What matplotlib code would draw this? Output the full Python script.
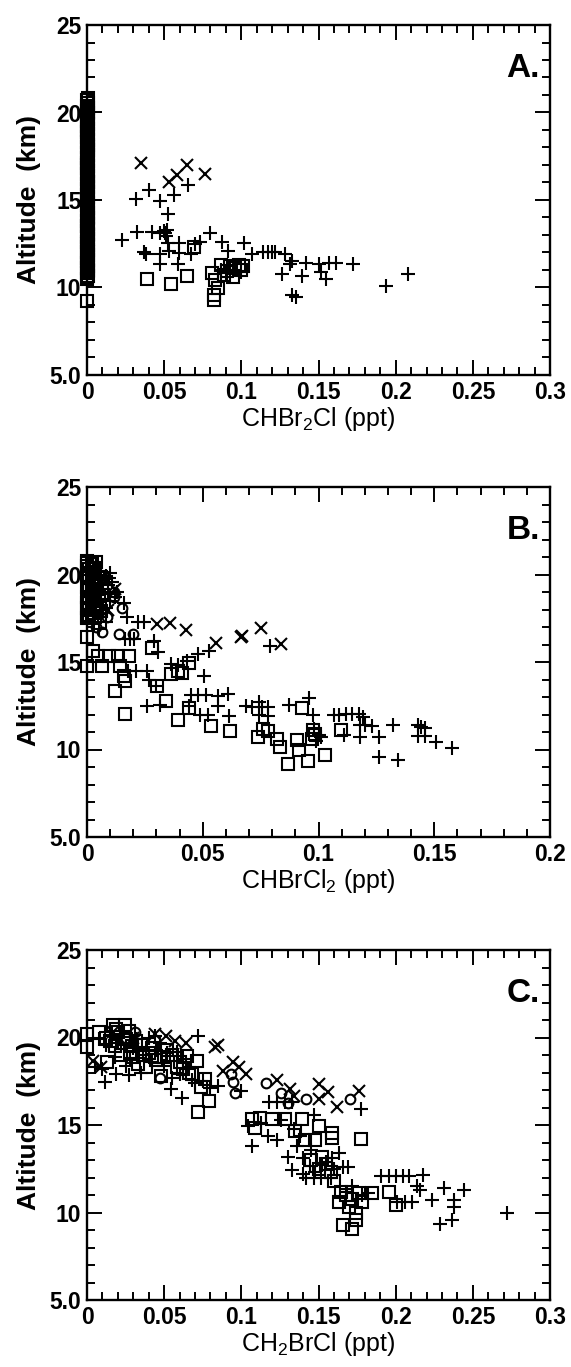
import matplotlib
matplotlib.use("Agg")
import matplotlib.pyplot as plt
from matplotlib.ticker import MultipleLocator, FixedLocator

plt.rcParams['font.family'] = ['Liberation Sans', 'DejaVu Sans']

# ---------------- Panel A : CHBr2Cl ----------------
A_sq_x = [0.0, 0.0, 0.0005, 0.0, 0.0005, 0.0, 0.0005, 0.0, 0.0005, 0.0, 0.0005, 0.0, 0.0005,
          0.0, 0.0005, 0.0, 0.0005, 0.0, 0.0005, 0.0, 0.0005, 0.0, 0.0005, 0.0, 0.0005, 0.0,
          0.0005, 0.0, 0.0005, 0.0, 0.0005, 0.0, 0.0005, 0.0, 0.0005, 0.0, 0.0005, 0.0, 0.0005,
          0.0, 0.0005, 0.0, 0.0005, 0.0, 0.0005, 0.0, 0.0005, 0.0, 0.0005, 0.0, 0.0005, 0.0,
          0.0005, 0.0, 0.0005, 0.0, 0.0005, 0.0, 0.0005, 0.0, 0.0005, 0.0, 0.0005, 0.0, 0.0005,
          0.0, 0.0005, 0.0, 0.0005, 0.0, 0.0005, 0.0, 0.0005, 0.0, 0.0005, 0.0, 0.0005, 0.0,
          0.0005, 0.0, 0.0005, 0.0, 0.0005, 0.0, 0.0005,
          0.0387, 0.0545, 0.0647, 0.0692, 0.0813, 0.083, 0.0849, 0.0825, 0.0825,
          0.0866, 0.0925, 0.096, 0.1008, 0.089, 0.0949, 0.0996, 0.0985, 0.0905]
A_sq_y = [9.2, 10.5, 10.65, 10.8, 10.95, 11.1, 11.25, 11.4, 11.55, 11.7, 11.85, 12.0, 12.15,
          12.3, 12.45, 12.6, 12.75, 12.9, 13.05, 13.2, 13.35, 13.5, 13.65, 13.8, 13.95, 14.1,
          14.25, 14.4, 14.55, 14.7, 14.85, 15.0, 15.15, 15.3, 15.45, 15.6, 15.75, 15.9, 16.05,
          16.2, 16.35, 16.5, 16.65, 16.8, 16.95, 17.1, 17.25, 17.4, 17.55, 17.7, 17.85, 18.0,
          18.15, 18.3, 18.45, 18.6, 18.75, 18.9, 19.05, 19.2, 19.35, 19.5, 19.65, 19.8, 19.95,
          20.1, 20.25, 20.4, 20.55, 20.7, 20.85, 10.6, 11.0, 11.5, 12.0, 12.5, 13.0, 13.5,
          14.0, 15.0, 16.0, 17.0, 18.0, 19.0, 20.0,
          10.48, 10.19, 10.67, 12.33, 10.82, 10.44, 9.96, 9.57, 9.28,
          11.27, 11.2, 11.1, 11.2, 10.7, 10.6, 11.0, 11.3, 10.95]
A_plus_x = [0.0652, 0.0403, 0.0562, 0.032, 0.0474, 0.0522, 0.0225, 0.0327, 0.0422, 0.0474,
            0.0498, 0.051, 0.0522, 0.0593, 0.0368, 0.038, 0.0474, 0.0534, 0.0593, 0.0474,
            0.0588, 0.0676, 0.070, 0.0735, 0.0794, 0.0877, 0.0913, 0.1015, 0.1067, 0.1138,
            0.1174, 0.1198, 0.1221, 0.128, 0.1316, 0.142, 0.1506, 0.1565, 0.1613, 0.1726,
            0.1262, 0.1394, 0.1518, 0.1548, 0.1328, 0.1352, 0.194, 0.208, 0.087, 0.090,
            0.096, 0.1, 0.0925, 0.133, 0.0505, 0.052]
A_plus_y = [15.88, 15.55, 15.3, 15.03, 14.97, 14.2, 12.7, 13.18, 13.18, 13.14,
            13.24, 12.95, 12.56, 12.56, 12.0, 11.94, 11.94, 12.08, 11.98, 11.36,
            11.36, 11.94, 12.46, 12.6, 13.14, 12.6, 12.08, 12.56, 11.94, 12.0,
            12.0, 12.0, 12.0, 11.94, 11.36, 11.4, 11.36, 11.4, 11.4, 11.36,
            10.77, 10.67, 10.86, 10.48, 9.57, 9.44, 10.09, 10.79, 11.0, 10.8,
            11.0, 10.9, 11.2, 11.5, 13.1, 13.3]
A_x_x = [0.0351, 0.0529, 0.0586, 0.0645, 0.0764]
A_x_y = [17.13, 16.03, 16.42, 17.0, 16.48]
A_o_x = []
A_o_y = []

# ---------------- Panel B : CHBrCl2 ----------------
B_sq_x = [0.0, 0.002, 0.001, 0.003, 0.0, 0.002, 0.004, 0.001, 0.003, 0.0, 0.002, 0.004,
          0.001, 0.003, 0.0, 0.005, 0.005, 0.006, 0.0, 0.002, 0.001, 0.0, 0.001, 0.003,
          0.0, 0.002, 0.004, 0.001, 0.0, 0.003, 0.002, 0.0, 0.001, 0.004, 0.0, 0.002,
          0.0, 0.0024, 0.0, 0.0063, 0.0047, 0.0095, 0.0134, 0.0182, 0.0142, 0.0158, 0.0166,
          0.0123, 0.0166, 0.0281, 0.0303, 0.034, 0.0363, 0.0395, 0.041, 0.0442, 0.0391,
          0.0439, 0.0534, 0.0619, 0.0739, 0.0781, 0.0821, 0.0833, 0.0868, 0.0908, 0.0916,
          0.0955, 0.1029, 0.0928, 0.097, 0.0975, 0.0985, 0.1097, 0.076]
B_sq_y = [20.8, 20.6, 20.3, 20.1, 19.9, 19.6, 19.4, 19.2, 18.9, 18.7, 18.5, 18.2,
          18.0, 17.8, 17.6, 19.8, 18.8, 17.9, 20.5, 19.0, 18.4, 20.65, 20.0, 19.5,
          19.3, 18.6, 18.0, 17.7, 18.1, 20.4, 19.75, 17.5, 19.1, 20.7, 18.35, 17.65,
          16.43, 15.65, 14.8, 14.8, 15.37, 15.37, 15.37, 15.37, 14.8, 14.2, 13.92,
          13.34, 12.03, 15.8, 13.63, 12.8, 14.3, 14.5, 14.35, 14.92, 11.7,
          12.38, 11.32, 11.03, 10.74, 11.03, 10.59, 10.16, 9.2, 10.55, 9.97,
          9.34, 9.68, 12.38, 10.6, 11.1, 10.9, 11.13, 11.2]
B_plus_x = [0.004, 0.006, 0.008, 0.005, 0.007, 0.009, 0.006, 0.004, 0.008, 0.010, 0.006,
            0.011, 0.0095, 0.0158, 0.0174, 0.013, 0.003, 0.005, 0.003, 0.005, 0.007,
            0.002, 0.006, 0.009, 0.004, 0.012, 0.008, 0.010,
            0.079, 0.022, 0.0245, 0.0166, 0.0185, 0.0205, 0.029, 0.0308, 0.048, 0.0529,
            0.0434, 0.0363, 0.0395, 0.0505, 0.0175, 0.021, 0.026, 0.0268, 0.03, 0.026,
            0.0316, 0.045, 0.0481, 0.0513, 0.0568, 0.0608, 0.0442, 0.0568, 0.049, 0.0521,
            0.0612, 0.0687, 0.0711, 0.0742, 0.0758, 0.0781, 0.0742, 0.0781, 0.0871, 0.096,
            0.0976, 0.098, 0.1002, 0.1066, 0.109, 0.112, 0.1144, 0.1176, 0.1192, 0.118,
            0.12, 0.123, 0.1323, 0.126, 0.118, 0.111, 0.1428, 0.1444, 0.146, 0.1428,
            0.146, 0.1507, 0.1575, 0.126, 0.1345, 0.099, 0.101]
B_plus_y = [20.5, 20.2, 19.9, 19.5, 19.2, 18.9, 18.6, 18.3, 18.1, 18.5, 17.6,
            19.6, 19.8, 18.35, 17.58, 19.0, 17.2, 16.9, 19.7, 20.0, 18.0,
            18.8, 19.0, 19.4, 17.9, 18.7, 17.3, 20.1,
            15.89, 17.3, 17.3, 16.3, 16.3, 16.3, 16.2, 15.6, 15.46, 15.65,
            15.08, 14.9, 14.85, 14.2, 14.5, 14.5, 14.5, 13.96, 13.63, 12.48,
            12.57, 13.1, 13.1, 13.1, 13.05, 13.2, 12.48, 12.48, 12.0, 12.0,
            11.9, 12.5, 12.45, 12.7, 12.45, 12.45, 11.95, 11.9, 12.57, 12.96,
            12.0, 11.2, 10.84, 11.95, 11.95, 12.05, 12.05, 12.05, 11.85, 11.4,
            11.4, 11.35, 11.38, 10.7, 10.7, 10.84, 11.4, 11.3, 11.25, 10.8,
            10.75, 10.45, 10.07, 9.59, 9.39, 10.5, 10.7]
B_x_x = [0.0303, 0.036, 0.0429, 0.0556, 0.0666, 0.0668, 0.075, 0.084, 0.0123, 0.007, 0.009]
B_x_y = [17.16, 17.24, 16.81, 16.08, 16.43, 16.5, 16.97, 16.04, 19.16, 19.7, 18.0]
B_o_x = [0.0118, 0.015, 0.0139, 0.0197, 0.0063, 0.0087, 0.0115, 0.004]
B_o_y = [18.74, 18.06, 16.62, 16.62, 16.7, 17.58, 19.0, 17.0]

# ---------------- Panel C : CH2BrCl ----------------
C_sq_x = [0.0, 0.0, 0.013, 0.0166, 0.0249, 0.008, 0.012, 0.02, 0.025, 0.018, 0.028, 0.035,
          0.03, 0.04, 0.045, 0.038, 0.05, 0.055, 0.06, 0.048, 0.0651, 0.071, 0.0722, 0.0765,
          0.0793, 0.068, 0.074, 0.022, 0.033, 0.015, 0.027, 0.032, 0.042, 0.052, 0.058,
          0.036, 0.044, 0.062, 0.019, 0.029, 0.066,
          0.1066, 0.109, 0.1196, 0.128, 0.139, 0.135, 0.141, 0.148, 0.1503, 0.1587, 0.1587,
          0.1776, 0.152, 0.155, 0.1634, 0.1646, 0.1658, 0.1717, 0.174, 0.174, 0.1847, 0.1954,
          0.2, 0.168, 0.172, 0.176, 0.17, 0.158, 0.16, 0.15, 0.112, 0.145, 0.178]
C_sq_y = [20.2, 19.44, 18.61, 20.69, 20.69, 20.3, 20.0, 20.3, 19.9, 19.5, 19.2, 19.6,
          18.9, 19.1, 18.7, 18.3, 18.9, 19.0, 18.6, 17.8, 18.96, 18.67, 15.76, 17.62,
          16.37, 17.9, 17.2, 19.0, 18.5, 19.8, 20.4, 19.8, 19.4, 19.3, 18.3,
          19.0, 18.9, 18.2, 20.5, 19.5, 18.0,
          15.32, 14.84, 15.32, 15.32, 15.32, 14.65, 14.17, 14.17, 14.93, 14.55, 14.26,
          14.2, 13.2, 12.8, 10.62, 11.2, 9.28, 9.08, 9.95, 9.56, 11.1, 11.2,
          10.43, 11.0, 10.8, 11.1, 10.3, 12.3, 11.8, 12.5, 15.4, 13.0, 10.6]
C_plus_x = [0.0722, 0.0118, 0.0185, 0.0272, 0.0545, 0.0616, 0.085, 0.0995, 0.005, 0.01,
            0.015, 0.02, 0.03, 0.035, 0.04, 0.045, 0.05, 0.055, 0.06, 0.065, 0.07, 0.075,
            0.08, 0.025, 0.008, 0.042, 0.058, 0.068, 0.012, 0.022, 0.032, 0.038, 0.047,
            0.052, 0.062, 0.028, 0.018, 0.044,
            0.1776, 0.104, 0.1066, 0.118, 0.123, 0.128, 0.1326, 0.117, 0.123, 0.1255, 0.13,
            0.1326, 0.136, 0.1397, 0.142, 0.1468, 0.1515, 0.1468, 0.1444, 0.1587, 0.1658,
            0.1693, 0.1906, 0.1954, 0.2, 0.2049, 0.2084, 0.2178, 0.201, 0.206, 0.2108,
            0.2155, 0.2238, 0.231, 0.238, 0.238, 0.244, 0.2285, 0.2363, 0.2723, 0.134,
            0.138, 0.148, 0.155, 0.16, 0.168, 0.172, 0.178, 0.182, 0.214, 0.113,
            0.152, 0.158, 0.163, 0.145, 0.14]
C_plus_y = [20.11, 17.43, 17.94, 17.85, 17.04, 16.56, 17.23, 16.95, 18.3, 18.2,
            20.1, 19.7, 19.4, 18.0, 20.0, 19.3, 18.4, 17.7, 17.9, 18.2, 17.4, 17.5,
            17.1, 18.4, 19.9, 18.6, 19.2, 17.6, 19.6, 20.2, 19.9, 19.0, 19.7,
            19.1, 18.8, 18.7, 18.9, 20.1,
            15.9, 14.93, 13.78, 16.3, 16.3, 16.3, 16.3, 14.36, 14.17, 15.3, 13.2,
            12.44, 13.78, 13.11, 11.96, 11.96, 11.96, 15.6, 12.63, 13.1, 12.6,
            12.6, 12.06, 12.06, 12.06, 12.06, 12.06, 12.15, 10.6, 10.6, 10.6,
            11.3, 10.71, 11.38, 10.71, 10.33, 11.29, 9.37, 9.56, 9.99, 14.8,
            14.4, 12.3, 12.9, 12.5, 11.2, 11.5, 11.0, 11.1, 11.5, 15.1,
            12.7, 12.0, 13.4, 13.6, 12.2]
C_x_x = [0.0036, 0.0166, 0.0438, 0.051, 0.064, 0.0829, 0.085, 0.088, 0.0947, 0.0983, 0.103,
         0.123, 0.1314, 0.134, 0.15, 0.1503, 0.156, 0.162, 0.1764, 0.03, 0.009, 0.057]
C_x_y = [18.67, 20.3, 20.2, 20.1, 19.7, 19.44, 19.57, 18.1, 18.58, 18.3, 17.9,
         17.6, 17.04, 16.66, 17.33, 16.47, 16.9, 16.03, 16.95, 20.0, 18.3, 19.8]
C_o_x = [0.0947, 0.0959, 0.116, 0.1255, 0.13, 0.142, 0.1705, 0.047, 0.031, 0.025, 0.093]
C_o_y = [17.43, 16.85, 17.38, 16.85, 16.28, 16.47, 16.47, 17.7, 20.3, 20.0, 17.9]

y_ticks = [5, 10, 15, 20, 25]
y_ticklabels = ["5.0", "10", "15", "20", "25"]
xA_ticks = [0, 0.05, 0.1, 0.15, 0.2, 0.25, 0.3]
xA_ticklabels = ["0", "0.05", "0.1", "0.15", "0.2", "0.25", "0.3"]
xB_ticks = [0, 0.05, 0.1, 0.15, 0.2]
xB_ticklabels = ["0", "0.05", "0.1", "0.15", "0.2"]

panels = [
    dict(letter="A.", xlabel=r"CHBr$\mathregular{_2}$Cl (ppt)", xt=xA_ticks, xtl=xA_ticklabels,
         sq=(A_sq_x, A_sq_y), plus=(A_plus_x, A_plus_y), x=(A_x_x, A_x_y), o=(A_o_x, A_o_y)),
    dict(letter="B.", xlabel=r"CHBrCl$\mathregular{_2}$ (ppt)", xt=xB_ticks, xtl=xB_ticklabels,
         sq=(B_sq_x, B_sq_y), plus=(B_plus_x, B_plus_y), x=(B_x_x, B_x_y), o=(B_o_x, B_o_y)),
    dict(letter="C.", xlabel=r"CH$\mathregular{_2}$BrCl (ppt)", xt=xA_ticks, xtl=xA_ticklabels,
         sq=(C_sq_x, C_sq_y), plus=(C_plus_x, C_plus_y), x=(C_x_x, C_x_y), o=(C_o_x, C_o_y)),
]

W, H = 571, 1367
fig = plt.figure(figsize=(W / 100, H / 100), dpi=100)
left_px, right_px = 87, 550
tops = [25, 487, 950]
ax_h = 350

for p, top in zip(panels, tops):
    ax = fig.add_axes([left_px / W, 1 - (top + ax_h) / H, (right_px - left_px) / W, ax_h / H])
    mk = dict(linestyle="none", color="black", mfc="none", mew=1.5, clip_on=False)
    ax.plot(*p["sq"], marker="s", ms=8.5, **mk)
    ax.plot(*p["plus"], marker="+", ms=10, **mk)
    ax.plot(*p["x"], marker="x", ms=8.5, **mk)
    ax.plot(*p["o"], marker="o", ms=7, **mk)
    ax.set_xlim(p["xt"][0], p["xt"][-1])
    ax.set_ylim(5, 25)
    ax.xaxis.set_major_locator(FixedLocator(p["xt"]))
    ax.set_xticklabels(p["xtl"])
    ax.xaxis.set_minor_locator(MultipleLocator(0.01))
    ax.yaxis.set_major_locator(FixedLocator(y_ticks))
    ax.set_yticklabels(y_ticklabels)
    ax.yaxis.set_minor_locator(MultipleLocator(1))
    ax.tick_params(which="both", direction="in", top=True, right=True, width=1.4)
    ax.tick_params(which="major", length=11, pad=4, labelsize=16.5)
    ax.tick_params(which="minor", length=6)
    for lab in ax.get_xticklabels() + ax.get_yticklabels():
        lab.set_fontweight("bold")
    for s in ax.spines.values():
        s.set_linewidth(1.7)
    ax.set_ylabel("Altitude  (km)", fontsize=19, fontweight="bold", labelpad=6)
    ax.set_xlabel(p["xlabel"], fontsize=18, labelpad=1)
    ax.text(0.978, 0.92, p["letter"], transform=ax.transAxes, ha="right", va="top",
            fontsize=24, fontweight="bold")

fig.savefig("out.png", dpi=100)
